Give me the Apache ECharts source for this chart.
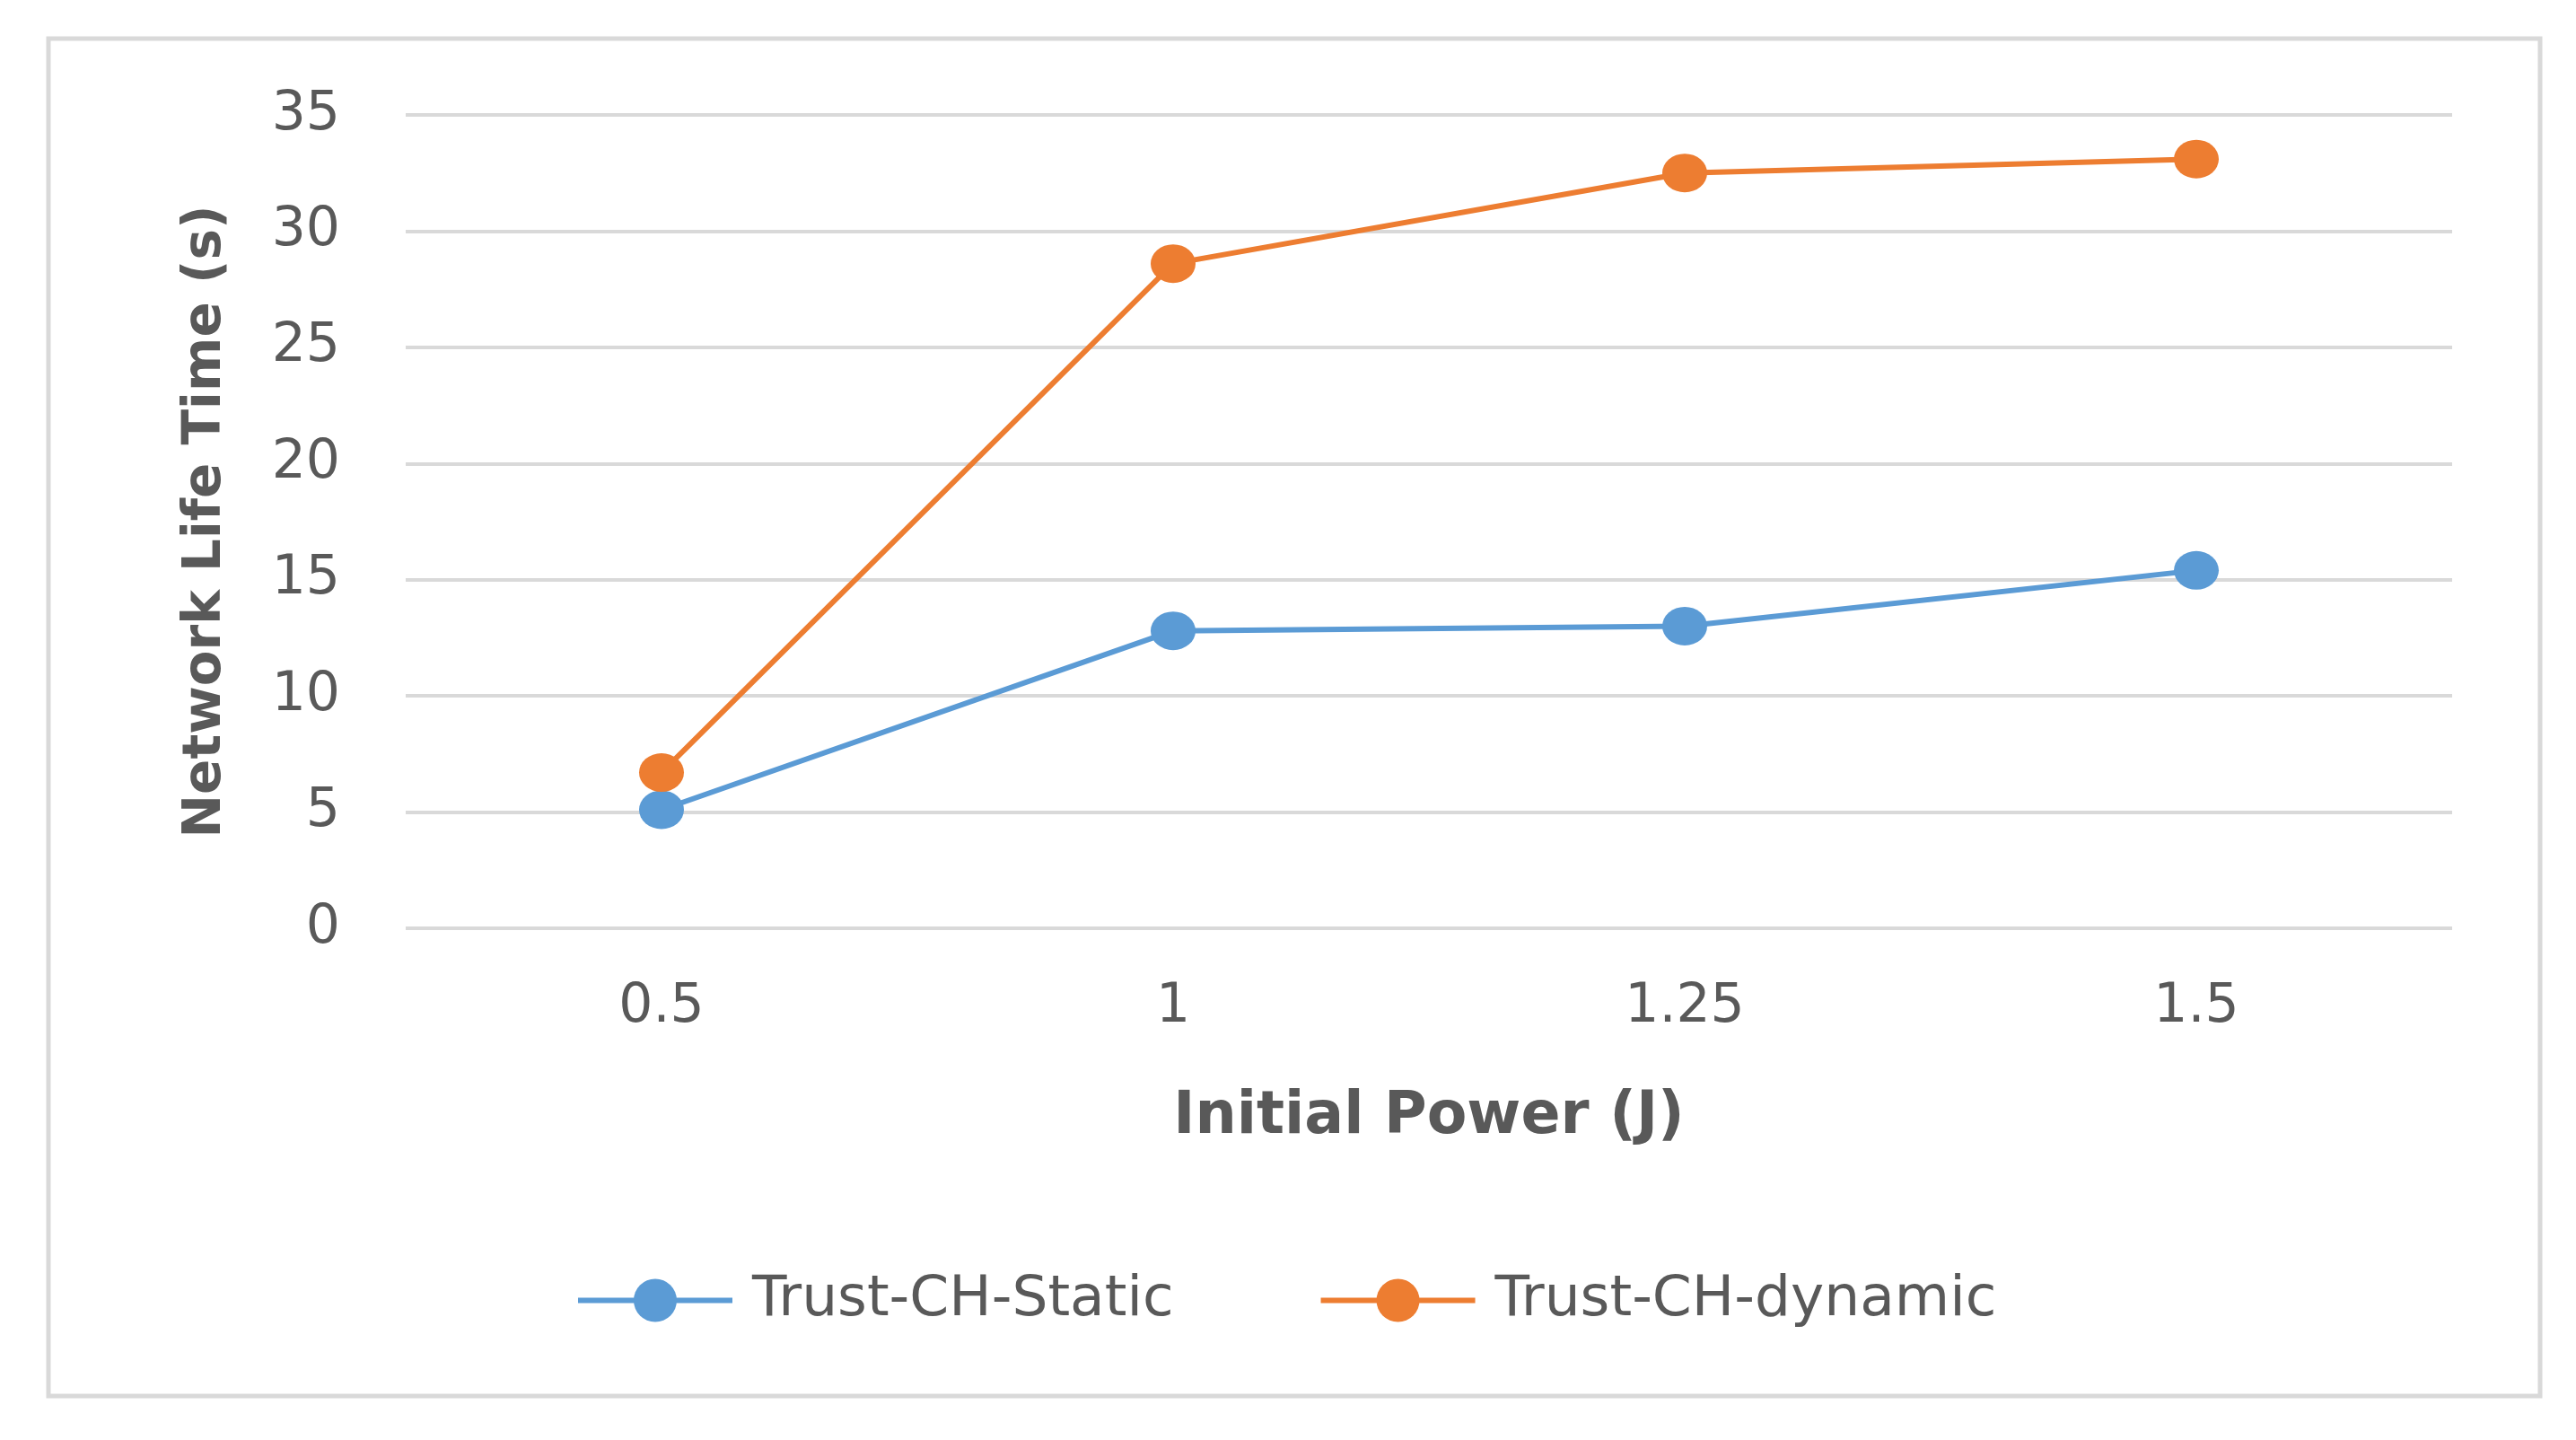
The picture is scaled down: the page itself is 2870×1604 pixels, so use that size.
<!DOCTYPE html>
<html>
<head>
<meta charset="utf-8">
<script src="https://cdn.jsdelivr.net/npm/echarts@6/dist/echarts.min.js"></script>
<style>
html,body{margin:0;padding:0;background:#fff;}
#chart{width:2870px;height:1604px;}
</style>
</head>
<body>
<div id="chart"></div>
<script>
const categories = ['0.5', '1', '1.25', '1.5'];
const staticValues = [5.1, 12.8, 13.0, 15.4];
const dynamicValues = [6.7, 28.6, 32.5, 33.1];
const seriesNames = ['Trust-CH-Static', 'Trust-CH-dynamic'];
const yTicks = { min: 0, max: 35, interval: 5 };

const chart = echarts.init(document.getElementById('chart'));
const font = 'DejaVu Sans';
const textColor = '#595959';

chart.setOption({
  backgroundColor: '#ffffff',
  animation: false,
  graphic: [{
    type: 'rect',
    z: -1,
    shape: { x: 54, y: 43, width: 2776, height: 1512 },
    style: { fill: '#ffffff', stroke: '#d9d9d9', lineWidth: 5 }
  }],
  grid: { left: 452, right: 138, top: 128, bottom: 570, containLabel: false },
  legend: {
    left: 636,
    top: 1412,
    itemWidth: 172,
    itemHeight: 60,
    itemGap: 161,
    lineStyle: { width: 6 },
    textStyle: { fontFamily: font, fontSize: 63, color: textColor, padding: [0, 0, 0, 17] },
    data: seriesNames
  },
  xAxis: {
    type: 'category',
    data: categories,
    boundaryGap: true,
    axisLine: { show: false },
    axisTick: { show: false },
    axisLabel: { fontFamily: font, fontSize: 60, color: textColor, margin: 58 },
    name: 'Initial Power (J)',
    nameLocation: 'middle',
    nameGap: 179,
    nameTextStyle: { fontFamily: font, fontSize: 65, fontWeight: 'bold', color: textColor }
  },
  yAxis: {
    type: 'value',
    min: yTicks.min,
    max: yTicks.max,
    interval: yTicks.interval,
    axisLine: { show: false },
    axisTick: { show: false },
    splitLine: { lineStyle: { color: '#d9d9d9', width: 4 } },
    axisLabel: { fontFamily: font, fontSize: 60, color: textColor, margin: 73 },
    name: 'Network Life Time (s)',
    nameLocation: 'middle',
    nameGap: 193,
    nameTextStyle: { fontFamily: font, fontSize: 58, fontWeight: 'bold', color: textColor }
  },
  series: [
    {
      name: seriesNames[0],
      type: 'line',
      data: staticValues,
      symbol: 'circle',
      symbolSize: [50, 43],
      itemStyle: { color: '#5B9BD5' },
      lineStyle: { color: '#5B9BD5', width: 6 }
    },
    {
      name: seriesNames[1],
      type: 'line',
      data: dynamicValues,
      symbol: 'circle',
      symbolSize: [50, 43],
      itemStyle: { color: '#ED7D31' },
      lineStyle: { color: '#ED7D31', width: 6 }
    }
  ]
});
</script>
</body>
</html>
